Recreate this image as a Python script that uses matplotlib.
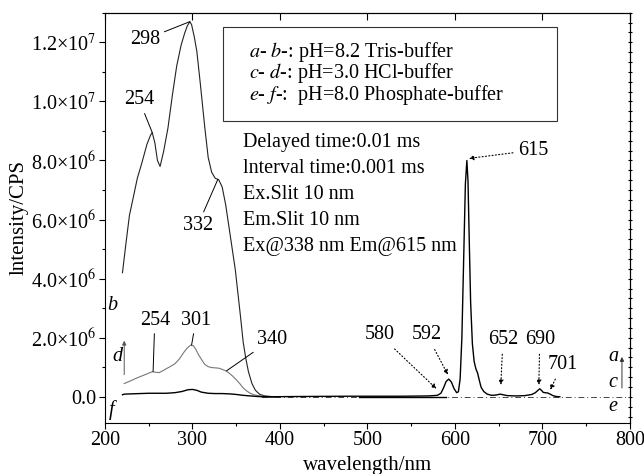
import matplotlib
matplotlib.use("Agg")
import matplotlib.pyplot as plt
from matplotlib.ticker import MultipleLocator, FuncFormatter
from matplotlib.patches import Rectangle

plt.rcParams["font.family"] = ["Liberation Serif", "DejaVu Serif"]
plt.rcParams["mathtext.fontset"] = "stix"

# ── données (intensité en 1e6 CPS) ───────────────────────────────────────
ex_b_x = [220, 224, 228, 232, 237, 242, 248, 252, 254, 257, 260, 263, 267, 272,
          277, 282, 287, 291, 294, 297, 299, 302, 305, 309, 314, 318, 322, 326,
          330, 334, 338, 341, 345, 349, 352, 355, 358, 361, 364, 368, 372, 377,
          383, 390, 400]
ex_b_y = [4.2, 5.2, 6.15, 6.7, 7.4, 7.9, 8.55, 8.85, 8.95, 8.6, 8.0, 7.8, 8.3,
          9.1, 10.2, 11.2, 11.9, 12.3, 12.55, 12.7, 12.6, 12.2, 11.7, 10.6, 9.15,
          8.1, 7.6, 7.4, 7.35, 7.1, 6.5, 5.9, 5.1, 4.3, 3.5, 2.7, 1.85, 1.3, 0.85,
          0.45, 0.22, 0.08, 0.03, 0.01, 0.0]

ex_d_x = [222, 226, 230, 235, 240, 245, 250, 254, 258, 262, 266, 270, 275, 280,
          285, 290, 294, 298, 301, 304, 307, 310, 314, 318, 322, 326, 330, 334,
          338, 342, 346, 350, 354, 358, 362, 366, 370, 375, 380, 390]
ex_d_y = [0.45, 0.5, 0.55, 0.62, 0.68, 0.74, 0.8, 0.85, 0.83, 0.82, 0.88, 0.95,
          1.03, 1.12, 1.28, 1.5, 1.65, 1.75, 1.73, 1.6, 1.42, 1.28, 1.1, 1.02,
          0.99, 0.98, 0.97, 0.93, 0.88, 0.8, 0.7, 0.58, 0.45, 0.3, 0.2, 0.12,
          0.07, 0.04, 0.02, 0.0]

ex_f_x = [220, 222, 230, 240, 250, 260, 270, 280, 288, 295, 300, 305, 310, 318,
          326, 334, 342, 350, 358, 366, 375, 385, 400]
ex_f_y = [0.07, 0.09, 0.1, 0.11, 0.12, 0.12, 0.12, 0.14, 0.18, 0.24, 0.25, 0.22,
          0.16, 0.12, 0.11, 0.11, 0.1, 0.08, 0.05, 0.03, 0.01, 0.0, 0.0]

em_a_x = [380, 420, 480, 540, 570, 580, 584, 587, 590, 593, 596, 599, 602, 604,
          606, 608, 610, 612, 613.7, 615, 616.5, 618, 620, 622, 624, 626, 628,
          630, 633, 637, 642, 647, 650, 652, 655, 660, 670, 680, 688, 692, 695,
          697, 699, 701, 703, 706, 709, 712, 716, 720]
em_a_y = [0.0, 0.01, 0.02, 0.02, 0.03, 0.05, 0.12, 0.3, 0.52, 0.6, 0.5, 0.28,
          0.14, 0.17, 0.6, 2.0, 4.6, 7.2, 8.0, 7.3, 5.2, 3.2, 1.8, 1.2, 0.95, 0.8,
          0.55, 0.32, 0.18, 0.09, 0.05, 0.06, 0.08, 0.09, 0.07, 0.04, 0.03, 0.04,
          0.08, 0.14, 0.22, 0.27, 0.22, 0.15, 0.14, 0.13, 0.09, 0.04, 0.01, 0.0]

em_c_x = [380, 800]
em_c_y = [0.0, 0.0]
em_e_x = [490, 590]
em_e_y = [0.01, 0.01]

# (texte, point visé, position du texte) en nm / 1e6 CPS
leaders = [("298", (297, 12.7), (246, 12.1)),
           ("254", (254, 8.95), (239, 10.05)),
           ("332", (329, 7.36), (306, 5.8)),
           ("254", (255, 0.85), (257, 2.6)),
           ("301", (299, 1.75), (304, 2.6)),
           ("340", (339, 0.88), (391, 1.95))]
dotted = [("580", (579, 0.27), (514, 2.1)),
          ("592", (592, 0.75), (568, 2.1)),
          ("615", (616, 8.07), (690, 8.35)),
          ("652", (652.5, 0.4), (655, 1.95)),
          ("690", (696, 0.4), (697, 1.95)),
          ("701", (709, 0.24), (723, 1.1))]

buffers = [r"$a$- $b$-: pH=8.2 Tris-buffer",
           r"$c$- $d$-: pH=3.0 HCl-buffer",
           r"$e$- $f$-:  pH=8.0 Phosphate-buffer"]
params = ["Delayed time:0.01 ms", "lnterval time:0.001 ms", "Ex.Slit 10 nm",
          "Em.Slit 10 nm", "Ex@338 nm Em@615 nm"]

FS = 14.5
M = 1e6
fig, ax = plt.subplots(figsize=(6.44, 4.74), dpi=100)
fig.subplots_adjust(left=0.163, right=0.978, top=0.973, bottom=0.108)

ax.plot(ex_b_x, [v * M for v in ex_b_y], color="#222222", lw=0.8)
ax.plot(ex_d_x, [v * M for v in ex_d_y], color="#777777", lw=0.8)
ax.plot(ex_f_x, [v * M for v in ex_f_y], color="black", lw=1.0)
ax.plot(em_c_x, [v * M for v in em_c_y], color="#444444", lw=0.7, ls=(0, (6, 3, 1, 3)))
ax.plot(em_e_x, [v * M for v in em_e_y], color="black", lw=1.0)
ax.plot(em_a_x, [v * M for v in em_a_y], color="black", lw=1.0)

ax.set_xlim(200, 800)
ax.set_ylim(-0.88e6, 1.3e7)

ax.xaxis.set_major_locator(MultipleLocator(100))
ax.xaxis.set_minor_locator(MultipleLocator(50))
ax.yaxis.set_major_locator(MultipleLocator(2e6))
ax.yaxis.set_minor_locator(MultipleLocator(1e6))


def fmt(v, pos):
    if abs(v) < 1:
        return "0.0"
    e = 6 if abs(v) < 1e7 else 7
    return f"{v / 10**e:.1f}×10$^{{{e}}}$"


ax.yaxis.set_major_formatter(FuncFormatter(fmt))
ax.tick_params(axis="both", which="major", direction="out", length=4, width=0.8,
               labelsize=FS, pad=2)
ax.tick_params(axis="both", which="minor", direction="out", length=2.5, width=0.8)

top = ax.secondary_xaxis("top")
top.xaxis.set_major_locator(MultipleLocator(100))
top.tick_params(direction="in", length=5, labeltop=False)
right = ax.secondary_yaxis("right")
right.yaxis.set_major_locator(MultipleLocator(1e6 / 3))
right.tick_params(direction="inout", length=2.5, labelright=False)

ax.set_xlabel("wavelength/nm", fontsize=15, labelpad=4)
ax.set_ylabel("lntensity/CPS", fontsize=15, labelpad=2)

for txt, xy, xyt in leaders:
    ax.annotate(txt, xy=(xy[0], xy[1] * M), xytext=(xyt[0], xyt[1] * M),
                ha="center", va="center", fontsize=FS,
                arrowprops=dict(arrowstyle="-", lw=0.7, color="black",
                                shrinkA=1, shrinkB=0))
for txt, xy, xyt in dotted:
    ax.annotate(txt, xy=(xy[0], xy[1] * M), xytext=(xyt[0], xyt[1] * M),
                ha="center", va="center", fontsize=FS,
                arrowprops=dict(arrowstyle="-|>", lw=0.8, color="black",
                                ls=(0, (1, 2)), mutation_scale=7,
                                shrinkA=2, shrinkB=0))

# lettres des courbes
for lab, x, y in [("b", 208, 3.1), ("d", 214, 1.36), ("f", 208, -0.44),
                  ("a", 781, 1.36), ("c", 781, 0.5), ("e", 781, -0.34)]:
    ax.text(x, y * M, lab, style="italic", fontsize=FS, ha="center", va="center")
ax.annotate("", xy=(222, 1.9 * M), xytext=(222, 0.75 * M),
            arrowprops=dict(arrowstyle="-|>", lw=0.7, color="#555555",
                            mutation_scale=6, shrinkA=0, shrinkB=0))
ax.annotate("", xy=(791, 1.35 * M), xytext=(791, 0.3 * M),
            arrowprops=dict(arrowstyle="-|>", lw=0.7, color="#333333",
                            mutation_scale=6, shrinkA=0, shrinkB=0))

# encadré des tampons
ax.add_patch(Rectangle((0.225, 0.737), 0.636, 0.229, transform=ax.transAxes,
                       fill=False, lw=0.8, ec="#333333"))
for i, s in enumerate(buffers):
    ax.text(0.274, 0.905 - 0.053 * i, s, transform=ax.transAxes, fontsize=FS,
            ha="left", va="center")
for i, s in enumerate(params):
    ax.text(0.263, 0.683 - 0.063 * i, s, transform=ax.transAxes, fontsize=FS,
            ha="left", va="center")

fig.savefig("out.png", dpi=100)
